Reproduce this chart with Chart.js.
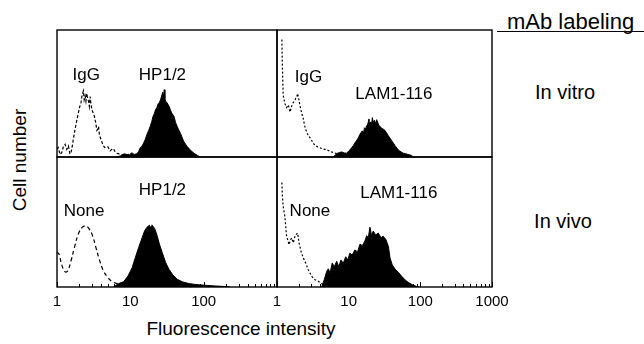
<!DOCTYPE html>
<html><head><meta charset="utf-8">
<script src="https://cdn.jsdelivr.net/npm/chart.js@4.4.1/dist/chart.umd.min.js"></script>
<style>
html,body{margin:0;padding:0;background:#fff;width:644px;height:344px;overflow:hidden;}
body{position:relative;font-family:"Liberation Sans",Arial,Helvetica,sans-serif;color:#000;}
canvas{position:absolute;}
.t{position:absolute;white-space:nowrap;line-height:1;}
</style></head><body>
<div class="t" id="ylab" style="left:19px;top:160px;font-size:19px;transform:translate(-50%,-50%) rotate(-90deg);">Cell number</div>
<div class="t" id="xlab" style="left:241px;top:328px;font-size:19px;transform:translate(-50%,-50%);">Fluorescence intensity</div>
<div class="t" id="mab" style="left:497px;top:11px;width:147px;height:21px;border-bottom:1px solid #000;font-size:22px;padding-left:10px;box-sizing:border-box;">mAb labeling</div>
<div class="t" style="left:565px;top:92px;font-size:20px;transform:translate(-50%,-50%);">In vitro</div>
<div class="t" style="left:563px;top:221px;font-size:20px;transform:translate(-50%,-50%);">In vivo</div>
<script>
// ---- Tick values (log axis) ----
const tickValues = [1,2,3,4,5,6,7,8,9,10,20,30,40,50,60,70,80,90,100,200,300,400,500,600,700,800,900,1000];
const majorTicks = [1,10,100,1000];
const leftTickLabels = [1,10,100];
const rightTickLabels = [1,10,100,1000];

// ---- Top-left: in vitro, IgG control vs HP1/2 ----
const tlIgGX = [1.0,1.04,1.1,1.16,1.22,1.29,1.36,1.43,1.5,1.55,1.62,1.67,1.74,1.8,1.88,1.96,2.05,2.13,2.2,2.29,2.35,2.42,2.48,2.55,2.62,2.69,2.76,2.83,2.9,2.99,3.1,3.24,3.37,3.5,3.6,3.68,3.8,4.0,4.2,4.45,4.7,4.95,5.3,5.6,5.9,6.2,6.6,7.3,8.5,9.5,11,13];
const tlIgGY = [6,7.4,2,3.4,8,10,6,8.7,2.5,3,9,14,20,24.6,30,35,40,43,49,52,45,48,44,50,46,44,40,47.6,42,37,35,32,27,21,22,24,17,13.5,10,7.4,8,8,4.8,6,6.6,4,3,2,1.3,2,0.5,0];
const tlHPX = [6.5,7.5,8.2,9.0,9.6,10.2,10.6,11.3,12.3,13.0,13.7,14.4,15.2,16.0,16.9,17.8,18.8,19.6,20.4,21.2,22,23,24,24.9,25.8,26.7,27.7,28.4,29,29.6,30.2,31.5,32.9,34,35.2,37.2,39.4,41.5,43.6,46,48.5,51,53.8,56.8,59.8,65,70,76,82,90];
const tlHPY = [0,1,2.5,2,1,3,3.2,2,2.6,4.5,7.4,8.5,11,14,18,21,24.6,28,32,34,37,39,42,43,45,48,51,47,53,46,44,43,41,39.5,37,34,32,27,24,21,18.5,15,12,10,8,6,4,2.5,1.3,0];

// ---- Top-right: in vitro, IgG control vs LAM1-116 ----
const trIgGX = [1.15,1.17,1.19,1.22,1.29,1.36,1.44,1.52,1.6,1.69,1.76,1.82,1.88,1.94,2.03,2.1,2.16,2.25,2.33,2.42,2.51,2.62,2.73,2.9,3.05,3.2,3.39,3.7,3.98,4.3,4.67,5.0,5.5,5.9,6.4,7.2,8.0,9.5,11,13,15,18,21];
const trIgGY = [92,92,70,48.6,42,39,41,35.4,40,43,44,46,47,50,44.6,40,37,33,30,25,22,19,17,15,13,11,9,8,7.3,6.5,6,5.5,4.5,3.8,3,2.6,2,1.5,1.3,1,0.5,0.5,0];
const trLAMX = [6.1,6.8,7.4,8.0,8.7,9.4,10.1,10.8,11.6,12.2,12.9,13.6,14.4,15.0,15.5,16.0,16.6,17.2,17.8,18.5,19.2,19.7,20.3,20.9,21.4,22.1,22.9,23.7,24.6,25.5,26.4,27.5,28.8,30.3,32,33.8,35.6,37.6,39.7,42,44.3,47.2,50.4,54,57.8,62,67.5,75,80];
const trLAMY = [0,2.6,3.5,4,3.2,3,5,6.6,9,11,13,15,18,19.5,20.6,18,23,22,24.5,26,30,24,27.6,26,31,27,29,26,29.4,27,25,24,22.6,22,21,19,17,15,13,11,9,7,5,4,3,2.6,2,1.3,0];

// ---- Bottom-left: in vivo, no mAb vs HP1/2 ----
const blNoneX = [1.0,1.07,1.16,1.29,1.4,1.55,1.73,1.96,2.22,2.47,2.74,3.05,3.39,3.76,4.3,4.95,5.7,6.6,7.5,8.5,9.5];
const blNoneY = [27,25,17,11.6,12.4,20,30.5,41,46,47,44.7,39.5,30.5,21.5,12.4,7.2,4,2.6,1.5,0.5,0];
const blHPX = [5.9,6.9,8.1,9.3,10.6,11.7,13.0,14.5,15.7,16.9,18.2,18.7,19.2,19.7,20.2,21.6,23.2,24.9,27.2,30.2,33.6,38,43.6,51,63,82,106,145,200,230];
const blHPY = [0,2.6,4,8.5,15,22.7,30.5,38,43.4,46,47.5,46,46.5,47.8,47,44.7,39.5,33,26.6,19,13.7,9.3,6,4,2.6,1.8,1.3,0.8,0.3,0];

// ---- Bottom-right: in vivo, no mAb vs LAM1-116 ----
const brNoneX = [1.15,1.17,1.19,1.22,1.29,1.36,1.42,1.47,1.54,1.6,1.69,1.76,1.82,1.94,2.03,2.16,2.33,2.51,2.73,3.05,3.39,3.77,4.2,4.6,5.5,6.4];
const brNoneY = [80,80,70,62,54,39,36,32.5,36,37.7,34,38,40,41.5,34,27.5,22.3,18.5,13.3,8.2,5.6,4.4,2.5,1.5,0.5,0];
const brLAMX = [4.2,4.56,4.94,5.2,5.5,5.9,6.3,6.8,7.3,7.8,8.4,9.1,9.7,10.4,11.2,12.2,13.3,14.4,15.5,16.9,17.8,18.8,19.8,20.9,22.0,23.8,25.9,28.2,30.4,32.9,35.8,37.8,40.6,44.3,49.4,55,61,67.6,77,88,97];
const brLAMY = [0,5.6,12,14,10.8,18.5,15.6,19.8,15.6,20.8,18.2,23.3,20.8,26,24.6,28.5,27,33,31.8,35.6,39.5,38,46,39.5,43,40,41.5,38,39,36.7,31.3,22.3,17,13.8,11.3,8.2,5.6,3.6,1.8,0.5,0];

// ---- helpers ----
const FONT = '"Liberation Sans", Arial, Helvetica, sans-serif';
function pts(xs, ys){ return xs.map((v,i)=>({x:v, y:ys[i]})); }

const panelPlugin = {
  id: 'panel',
  afterDatasetsDraw(chart, args, opts) {
    const {ctx, chartArea: a, scales: {x, y}} = chart;
    ctx.save();
    if (opts.ticks) {
      ctx.strokeStyle = '#000'; ctx.lineWidth = 1;
      x.ticks.forEach(t => {
        const px = Math.round(x.getPixelForValue(t.value)) + 0.5;
        const len = t.major ? 5 : 3;
        ctx.beginPath(); ctx.moveTo(px, a.bottom); ctx.lineTo(px, a.bottom - len); ctx.stroke();
      });
    }
    ctx.strokeStyle = '#000'; ctx.lineWidth = 1.4;
    ctx.strokeRect(a.left, a.top, a.right - a.left, a.bottom - a.top);
    ctx.fillStyle = '#000';
    ctx.font = '17px ' + FONT;
    ctx.textAlign = 'center'; ctx.textBaseline = 'middle';
    (opts.labels || []).forEach(l => ctx.fillText(l.text, x.getPixelForValue(l.x), y.getPixelForValue(l.y)));
    ctx.restore();
  }
};

const panels = [
  {L:57, T:30, W:220, H:127, bottom:false, tickLabels:leftTickLabels,
   ctrl:pts(tlIgGX,tlIgGY), ctrlDash:[3,2], ctrlTension:0, fill:pts(tlHPX,tlHPY),
   labels:[{text:'IgG',x:2.5,y:64},{text:'HP1/2',x:27.4,y:64}]},
  {L:277, T:30, W:215, H:127, bottom:false, tickLabels:rightTickLabels,
   ctrl:pts(trIgGX,trIgGY), ctrlDash:[2,2], ctrlTension:0, fill:pts(trLAMX,trLAMY),
   labels:[{text:'IgG',x:2.75,y:63},{text:'LAM1-116',x:42.8,y:49}]},
  {L:57, T:157, W:220, H:130, bottom:true, tickLabels:leftTickLabels,
   ctrl:pts(blNoneX,blNoneY), ctrlDash:[4,3], ctrlTension:0.4, fill:pts(blHPX,blHPY),
   labels:[{text:'HP1/2',x:27.4,y:74},{text:'None',x:2.34,y:58}]},
  {L:277, T:157, W:215, H:130, bottom:true, tickLabels:rightTickLabels,
   ctrl:pts(brNoneX,brNoneY), ctrlDash:[2,2], ctrlTension:0, fill:pts(brLAMX,brLAMY),
   labels:[{text:'LAM1-116',x:50,y:72},{text:'None',x:2.88,y:58}]}
];

const PADX = 34, PADY = 6, AXIS_H = 26;
panels.forEach(p => {
  const c = document.createElement('canvas');
  const cw = p.W + 2*PADX, ch = p.H + 2*PADY + (p.bottom ? AXIS_H : 0);
  c.width = cw; c.height = ch;
  c.style.left = (p.L - PADX) + 'px'; c.style.top = (p.T - PADY) + 'px';
  c.style.width = cw + 'px'; c.style.height = ch + 'px';
  document.body.appendChild(c);
  new Chart(c.getContext('2d'), {
    type: 'line',
    data: { datasets: [
      { data: p.fill, borderColor:'#000', backgroundColor:'#000', borderWidth:1, fill:'origin', pointRadius:0, tension:0 },
      { data: p.ctrl, borderColor:'#000', borderWidth:1.2, borderDash:p.ctrlDash, fill:false, pointRadius:0, tension:p.ctrlTension }
    ]},
    options: {
      responsive:false, maintainAspectRatio:false, animation:false, devicePixelRatio:1,
      layout:{ padding:{ left:PADX, right:PADX, top:PADY, bottom:PADY } },
      plugins:{ legend:{display:false}, tooltip:{enabled:false}, panel:{ ticks:p.bottom, labels:p.labels } },
      scales:{
        x:{ type:'logarithmic', min:1, max:1000, display:p.bottom,
            afterBuildTicks: s => { s.ticks = tickValues.map(v => ({value:v, major:majorTicks.includes(v)})); },
            afterFit: s => { s.height = p.bottom ? AXIS_H : 0; },
            grid:{display:false, drawTicks:false}, border:{display:false},
            ticks:{ autoSkip:false, maxRotation:0, minRotation:0, padding:6, color:'#000',
                    font:{size:15, family:FONT},
                    callback: v => p.tickLabels.includes(v) ? String(v) : '' } },
        y:{ type:'linear', min:0, max:100, display:false }
      }
    },
    plugins:[panelPlugin]
  });
});
</script>
</body></html>
